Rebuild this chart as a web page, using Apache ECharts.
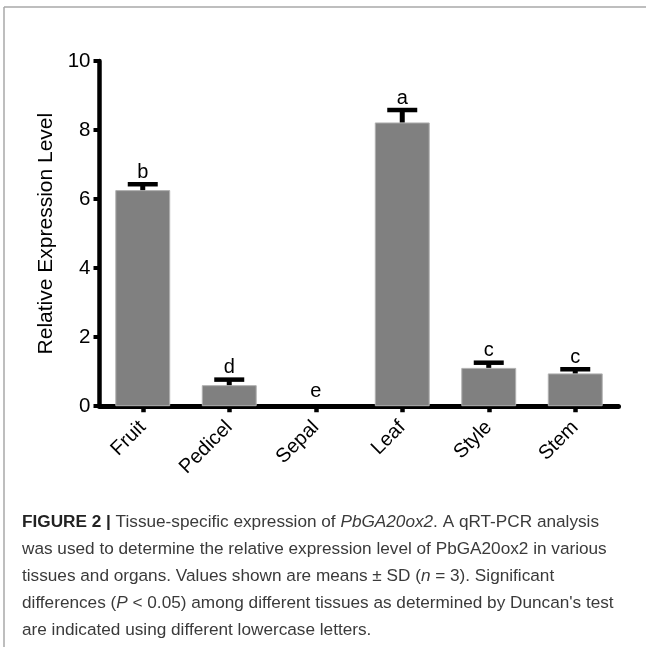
<!DOCTYPE html>
<html>
<head>
<meta charset="utf-8">
<script src="https://cdn.jsdelivr.net/npm/echarts@6/dist/echarts.min.js"></script>
<style>html,body{margin:0;padding:0;background:#fff;}#c{width:646px;height:647px;}</style>
</head>
<body>
<div id="c"></div>
<script>
const categories = ['Fruit', 'Pedicel', 'Sepal', 'Leaf', 'Style', 'Stem'];
const means = [6.26, 0.61, 0.0, 8.22, 1.11, 0.95];
const sds = [0.17, 0.16, 0.0, 0.36, 0.15, 0.12];
const letters = ['b', 'd', 'e', 'a', 'c', 'c'];
const yTicks = [0, 2, 4, 6, 8, 10];
const captionLines = [
  '{b|FIGURE 2 |} Tissue-specific expression of {i|PbGA20ox2}. A qRT-PCR analysis',
  'was used to determine the relative expression level of PbGA20ox2 in various',
  'tissues and organs. Values shown are means \u00b1 SD ({i|n} = 3). Significant',
  'differences ({i|P} < 0.05) among different tissues as determined by Duncan\'s test',
  'are indicated using different lowercase letters.'
];

const FONT = '"Liberation Sans", Arial, sans-serif';
const chart = echarts.init(document.getElementById('c'));

const capFont = 17.2;
const rich = {
  b: { fontWeight: 'bold', fontSize: capFont, fontFamily: FONT, fill: '#222', color: '#222' },
  i: { fontStyle: 'italic', fontSize: capFont, fontFamily: FONT, fill: '#3a3a3a', color: '#3a3a3a' }
};
const captionGraphics = captionLines.map((t, k) => ({
  type: 'text',
  x: 22,
  y: 522 + k * 27,
  style: {
    text: t,
    rich: rich,
    fontSize: capFont,
    fontFamily: FONT,
    fill: '#3a3a3a',
    verticalAlign: 'middle',
    align: 'left'
  }
}));

const option = {
  animation: false,
  backgroundColor: '#fff',
  grid: { left: 99.5, right: 27.5, top: 61, bottom: 240.8 },
  xAxis: {
    type: 'category',
    data: categories,
    axisLine: { lineStyle: { color: '#000', width: 5 } },
    axisTick: { show: true, alignWithLabel: true, length: 6, lineStyle: { color: '#000', width: 4.5 } },
    axisLabel: { rotate: 45, fontSize: 20, fontFamily: FONT, color: '#000', margin: 18, interval: 0 }
  },
  yAxis: {
    type: 'value',
    min: 0, max: 10, interval: 2,
    name: 'Relative Expression Level',
    nameLocation: 'middle',
    nameGap: 42,
    nameRotate: 90,
    nameTextStyle: { fontSize: 21, fontFamily: FONT, color: '#000' },
    splitLine: { show: false },
    axisLine: { show: true, lineStyle: { color: '#000', width: 4.5 } },
    axisTick: { show: true, length: 6, lineStyle: { color: '#000', width: 4 } },
    axisLabel: {
      fontSize: 20.5, fontFamily: FONT, color: '#000', margin: 9,
      formatter: v => (yTicks.indexOf(v) >= 0 ? String(v) : '')
    }
  },
  series: [
    {
      type: 'bar',
      data: means.map(v => (v > 0 ? v : { value: v, itemStyle: { borderWidth: 0 } })),
      barWidth: '63.5%',
      itemStyle: { color: '#808080', borderColor: '#b0b0b0', borderWidth: 1 },
      z: 2
    },
    {
      type: 'custom',
      z: 3,
      data: means.map((m, i) => [i, m, sds[i]]),
      renderItem: function (params, api) {
        const i = api.value(0);
        const m = api.value(1);
        const sd = api.value(2);
        const base = api.coord([i, m]);
        const top = api.coord([i, m + sd]);
        const children = [];
        if (sd > 0) {
          children.push({
            type: 'line',
            shape: { x1: base[0], y1: base[1], x2: top[0], y2: top[1] },
            style: { stroke: '#000', lineWidth: 5 }
          });
          children.push({
            type: 'line',
            shape: { x1: top[0] - 15, y1: top[1], x2: top[0] + 15, y2: top[1] },
            style: { stroke: '#000', lineWidth: 4.5 }
          });
        }
        children.push({
          type: 'text',
          x: top[0],
          y: sd > 0 ? top[1] - 2 : top[1] - 4.5,
          style: {
            text: letters[params.dataIndex],
            fontSize: 20,
            fontFamily: FONT,
            fill: '#000',
            align: 'center',
            verticalAlign: 'bottom'
          }
        });
        return { type: 'group', children: children };
      }
    }
  ],
  graphic: [
    { type: 'line', shape: { x1: 4, y1: 7, x2: 646, y2: 7 }, style: { stroke: '#a8a8a8', lineWidth: 1.5 } },
    { type: 'line', shape: { x1: 4, y1: 7, x2: 4, y2: 647 }, style: { stroke: '#a8a8a8', lineWidth: 1.5 } }
  ].concat(captionGraphics)
};
chart.setOption(option);
</script>
</body>
</html>
